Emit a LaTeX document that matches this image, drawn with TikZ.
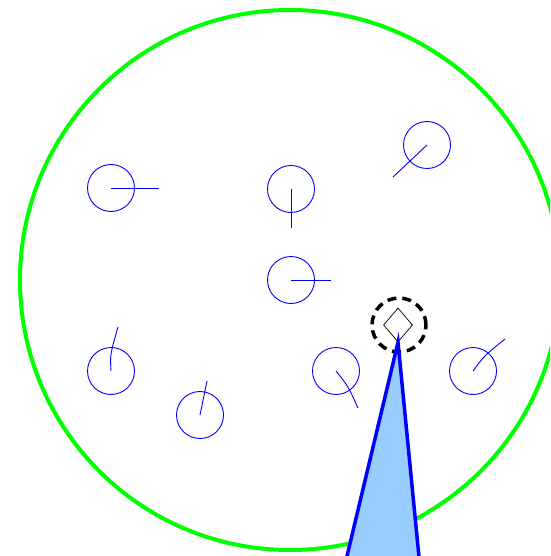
\documentclass[tikz,border=0pt]{standalone}
\usetikzlibrary{shapes.geometric}
\definecolor{agentblue}{RGB}{0,0,255}
\definecolor{arenagreen}{RGB}{0,255,0}
\definecolor{conefill}{RGB}{153,204,255}
\begin{document}
\begin{tikzpicture}[x=1pt,y=-1pt,
  agent/.style={circle,draw=agentblue,line width=0.9pt,minimum size=47pt,inner sep=0pt},
  heading/.style={draw=agentblue,line width=0.9pt},
  arena/.style={draw=arenagreen,line width=4pt},
  target/.style={circle,draw=black,line width=3.5pt,dash pattern=on 9pt off 6pt,minimum size=54pt,inner sep=0pt},
  marker/.style={diamond,draw=black,line width=0.7pt,minimum width=29pt,minimum height=34pt,inner sep=0pt},
  cone/.style={draw=agentblue,fill=conefill,line width=3.5pt,line join=miter}]
\useasboundingbox (0,0) rectangle (550,556);
\begin{scope}
\clip (0,0) rectangle (550,556);
% arena
\node[circle,arena,minimum size=540pt,inner sep=0pt] (arenaC) at (290,280) {};
% agents
\node[agent] (a1) at (111,188) {};
\coordinate (h1) at (159,188);
\node[agent] (a2) at (291,189) {};
\coordinate (h2) at (291,228);
\node[agent] (a3) at (291,280) {};
\coordinate (h3) at (331,280);
\node[agent] (a4) at (427,145) {};
\coordinate (h4) at (393,177);
\node[agent] (a5) at (111,371) {};
\coordinate (h5) at (118,327);
\node[agent] (a6) at (200,415) {};
\coordinate (h6) at (207,381);
\node[agent] (a7) at (336,371) {};
\coordinate (h7) at (358,408);
\node[agent] (a8) at (473,371) {};
\coordinate (h8) at (505,339);
\draw[heading] (a1.center) -- (h1);
\draw[heading] (a2.center) -- (h2);
\draw[heading] (a3.center) -- (h3);
\draw[heading] (a4.center) -- (h4);
\draw[heading] (a5.center) .. controls (110,355) .. (h5);
\draw[heading] (a6.center) -- (h6);
\draw[heading] (a7.center) .. controls (348,386) .. (h7);
\draw[heading] (a8.center) .. controls (484,356) .. (h8);
% target
\node[target] (tgt) at (399,325) {};
\node[marker] (dia) at (398,325) {};
% view cone
\coordinate (cL) at (337,598);
\coordinate (cR) at (423,598);
\draw[cone] (dia.south) -- (cL) -- (cR) -- cycle;
\end{scope}
\end{tikzpicture}
\end{document}
